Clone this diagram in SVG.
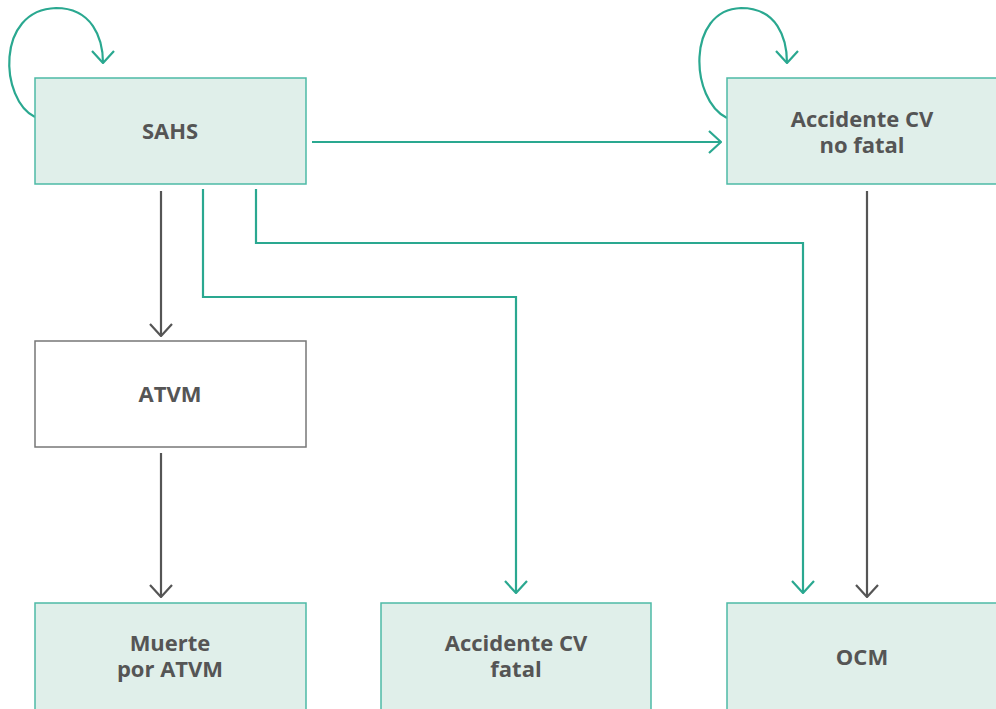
<svg xmlns="http://www.w3.org/2000/svg" width="996" height="709" viewBox="0 0 996 709">
<style>
.box{fill:#e0efea;stroke:#4dbaa6;stroke-width:1.5}
.wbox{fill:#fff;stroke:#777;stroke-width:1.5}
.t{font-family:"Open Sans",sans-serif;font-weight:bold;font-size:22px;fill:#555;text-anchor:middle}
.g{fill:none;stroke:#555;stroke-width:2.2}
.c{fill:none;stroke:#2aa890;stroke-width:2.2}
</style>
<defs>
<marker id="ag" viewBox="0 0 14 24" refX="13" refY="12" markerWidth="14" markerHeight="24" markerUnits="userSpaceOnUse" orient="auto"><path d="M1,1 L13,12 L1,23" fill="none" stroke="#555" stroke-width="2.2"/></marker>
<marker id="ac" viewBox="0 0 14 24" refX="13" refY="12" markerWidth="14" markerHeight="24" markerUnits="userSpaceOnUse" orient="auto"><path d="M1,1 L13,12 L1,23" fill="none" stroke="#2aa890" stroke-width="2.2"/></marker>
</defs>
<g id="connectors">
<path class="c" d="M35,117 C0,100 -5,10 56,8 C92,8 103,38 103,63" marker-end="url(#ac)"/>
<path class="c" d="M727,118 C690,100 686,10 741,8 C777,8 787,38 787,63" marker-end="url(#ac)"/>
<path class="c" d="M312,142 L721,142" marker-end="url(#ac)"/>
<path class="g" d="M161,191 L161,336" marker-end="url(#ag)"/>
<path class="g" d="M161,453 L161,597" marker-end="url(#ag)"/>
<path class="c" d="M203,189 L203,297 L516,297 L516,593" marker-end="url(#ac)"/>
<path class="c" d="M256,189 L256,243 L803,243 L803,593" marker-end="url(#ac)"/>
<path class="g" d="M867,191 L867,597" marker-end="url(#ag)"/>
</g>
<g id="sahs"><rect class="box" x="35" y="78" width="271" height="106"/><text class="t" x="170" y="139">SAHS</text></g>
<g id="acv-nofatal"><rect class="box" x="727" y="78" width="275" height="106"/><text class="t" x="862" y="127">Accidente CV</text><text class="t" x="862" y="153">no fatal</text></g>
<g id="atvm"><rect class="wbox" x="35" y="341" width="271" height="106"/><text class="t" x="170" y="402">ATVM</text></g>
<g id="muerte"><rect class="box" x="35" y="603" width="271" height="112"/><text class="t" x="170" y="651">Muerte</text><text class="t" x="170" y="677">por ATVM</text></g>
<g id="acv-fatal"><rect class="box" x="381" y="603" width="270" height="112"/><text class="t" x="516" y="651">Accidente CV</text><text class="t" x="516" y="677">fatal</text></g>
<g id="ocm"><rect class="box" x="727" y="603" width="275" height="112"/><text class="t" x="862" y="665">OCM</text></g>
</svg>
